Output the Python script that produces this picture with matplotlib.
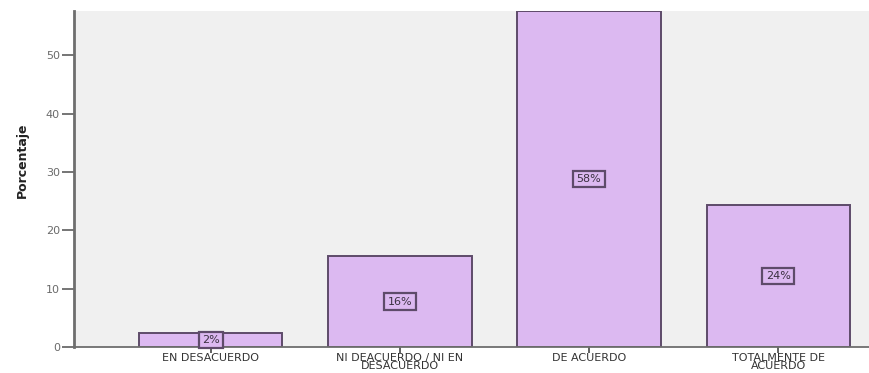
import numpy as np
import matplotlib
matplotlib.use("Agg")
import matplotlib.pyplot as plt

# datos
categorias = ['EN DESACUERDO', 'NI DEACUERDO / NI EN\nDESACUERDO',
              'DE ACUERDO', 'TOTALMENTE DE\nACUERDO']
porcentajes = [2.4, 15.6, 57.6, 24.4]
etiquetas = ['2%', '16%', '58%', '24%']
yticks = [0, 10, 20, 30, 40, 50]

plt.rcParams['font.family'] = ['DejaVu Sans']

fig = plt.figure(figsize=(8.69, 3.73), dpi=100)
fig.patch.set_facecolor('white')
ax = fig.add_axes([0.085, 0.0697, 0.915, 0.9008])
ax.set_facecolor('#f0f0f0')

x = np.arange(len(categorias))
ax.bar(x, porcentajes, width=0.757, color='#dcb9f1', edgecolor='#5e4b6a',
       linewidth=1.4, zorder=2)

for xi, val, txt in zip(x, porcentajes, etiquetas):
    ax.text(xi, val / 2, txt, ha='center', va='center', fontsize=8,
            color='#3a3040', zorder=3,
            bbox=dict(boxstyle='square,pad=0.3', fc='#dcb9f1',
                      ec='#5e4b6a', lw=1.6))

ax.set_xlim(-0.725, 3.481)
ax.set_ylim(0, 57.6)
ax.set_yticks(yticks)
ax.set_xticks(x)
ax.set_xticklabels(categorias, fontsize=8, color='#333333', linespacing=0.72)
ax.tick_params(axis='y', labelsize=8, colors='#6a6a6a', length=9, width=1.3,
               pad=1)
ax.tick_params(axis='x', length=4, width=1.3, color='#555555', pad=0.5)

for s in ['top', 'right']:
    ax.spines[s].set_visible(False)
ax.spines['left'].set_color('#6e6e6e')
ax.spines['left'].set_linewidth(2)
ax.spines['bottom'].set_color('#6e6e6e')
ax.spines['bottom'].set_linewidth(1.3)

ax.set_ylabel('Porcentaje', fontsize=9, fontweight='bold', color='#222222')
ax.yaxis.set_label_coords(-0.057, 0.557)

fig.savefig('out.png', dpi=100)
